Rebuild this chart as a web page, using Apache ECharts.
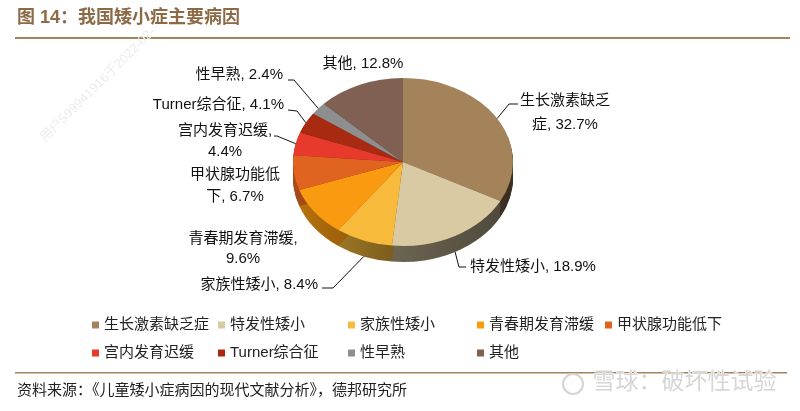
<!DOCTYPE html>
<html>
<head>
<meta charset="utf-8">
<script src="https://cdn.jsdelivr.net/npm/echarts@6/dist/echarts.min.js"></script>
<style>
html,body{margin:0;padding:0;background:#fff;}
#main{width:800px;height:411px;}
</style>
</head>
<body>
<div id="main"></div>
<script>
// 数据
var names = ['生长激素缺乏症','特发性矮小','家族性矮小','青春期发育滞缓','甲状腺功能低下','宫内发育迟缓','Turner综合征','性早熟','其他'];
var values = [32.7,18.9,8.4,9.6,6.7,4.4,4.1,2.4,12.8];
var colors = ['#A4825A','#D9CAA3','#F7BA3A','#F99A10','#E0641F','#E83A2C','#A82A10','#8E8E8E','#7F6052'];

// 饼图位置（椭圆+厚度）
var CX = 403, CY = 162, RX = 110, RY = 84, DEPTH = 16;
var FONT = '"Liberation Sans","Noto Sans CJK SC",sans-serif';

// 标签摆放：相对圆心的位置、对齐、换行位置、引线拐点/终点
var labelLayout = [
  {x:162, y:-49, align:'center', brk:6, lh:24, line:[[106,-58],[115,-58]]},
  {x:67,  y:105, align:'left',   line:[[56,105],[63,105]], front:true},
  {x:-85, y:123, align:'right',  line:[[-70,126],[-81,126]], front:true},
  {x:-160,y:87,  align:'center', brk:8, lh:20},
  {x:-168,y:24,  align:'center', brk:6, lh:22},
  {x:-178,y:-21, align:'center', brk:7, lh:21, line:[[-126,-26],[-129,-26]]},
  {x:-119,y:-57, align:'right',  line:[[-106,-51],[-115,-52]]},
  {x:-120,y:-87, align:'right',  line:[[-109,-82],[-115,-82]]},
  {x:-40, y:-98, align:'center'}
];
var legendLeft = [87,213,343,472,600];
var legendCols = [[0,5],[1,6],[2,7],[3,8],[4]];

var total = 0, starts = [];
for (var i=0;i<values.length;i++){ starts.push(total); total += values[i]; }
var pieData = values.map(function(v,i){ return [v, starts[i]]; });

function shade(hex,k){
  var n = parseInt(hex.slice(1),16);
  var r=(n>>16)&255, g=(n>>8)&255, b=n&255;
  return 'rgb('+Math.round(r*k)+','+Math.round(g*k)+','+Math.round(b*k)+')';
}
function sector(a0,a1,fill,dy){
  return {
    type:'sector',
    shape:{cx:CX, cy:CY, r:RX, r0:0, startAngle:a0, endAngle:a1, clockwise:true},
    originX:CX, originY:CY, scaleY:RY/RX, y:dy,
    style:{fill:fill}
  };
}
function angles(api){
  var a0 = -Math.PI/2 + 2*Math.PI*api.value(1)/total;
  var a1 = a0 + 2*Math.PI*api.value(0)/total;
  return [a0,a1];
}

//侧面
function renderWall(params, api){
  var i = params.dataIndex;
  var a = angles(api);
  var fill = {type:'linear', x:CX-RX, y:0, x2:CX+RX, y2:0, global:true,
    colorStops:[{offset:0,color:shade(colors[i],0.75)},{offset:0.45,color:shade(colors[i],0.5)},{offset:1,color:shade(colors[i],0.35)}]};
  var kids = [];
  for (var d=DEPTH; d>=1; d--) kids.push(sector(a[0],a[1],fill,d));
  return {type:'group', children:kids};
}

//顶面+标签
function renderTop(params, api){
  var i = params.dataIndex;
  var a = angles(api);
  var kids = [sector(a[0],a[1],colors[i],0)];
  var lay = labelLayout[i];
  var txt = names[i] + ', ' + api.value(0) + '%';
  if (lay.brk) txt = txt.slice(0,lay.brk) + '\n' + txt.slice(lay.brk).trim();
  kids.push({
    type:'text', x:CX+lay.x, y:CY+lay.y, z2:10,
    style:{text:txt, fill:'#111', fontSize:15, fontFamily:FONT, align:lay.align, verticalAlign:'middle', lineHeight:lay.lh||20}
  });
  if (lay.line){
    var mid = (a[0]+a[1])/2;
    var sx = CX + RX*Math.cos(mid), sy = CY + RY*Math.sin(mid) + (lay.front?DEPTH:0);
    kids.push({
      type:'polyline', z2:10,
      shape:{points:[[sx,sy],[CX+lay.line[0][0],CY+lay.line[0][1]],[CX+lay.line[1][0],CY+lay.line[1][1]]]},
      style:{stroke:'#111', lineWidth:1, fill:null}
    });
  }
  return {type:'group', children:kids};
}

var chart = echarts.init(document.getElementById('main'));
var legends = legendCols.map(function(col,k){
  return {
    orient:'vertical', left:legendLeft[k], top:310,
    icon:'rect', itemWidth:7, itemHeight:7, itemGap:8,
    selectedMode:false,
    textStyle:{fontSize:15, lineHeight:20, color:'#222', fontFamily:FONT},
    data:col.map(function(j){ return names[j]; })
  };
});

var option = {
  backgroundColor:'#fff',
  animation:false,
  legend:legends,
  graphic:[
    {type:'text', left:17, top:9, style:{text:'图 14：我国矮小症主要病因', fill:'#8C6A46', fontSize:18, fontWeight:'bold', fontFamily:FONT}},
    {type:'rect', shape:{x:15, y:37, width:775, height:2}, style:{fill:'#A3825C'}},
    {type:'rect', shape:{x:15, y:372, width:772, height:1.5}, style:{fill:'#A3825C'}},
    {type:'text', left:17, top:383, style:{text:'资料来源：《儿童矮小症病因的现代文献分析》，德邦研究所', fill:'#222', fontSize:15, fontFamily:FONT}},
    {type:'circle', shape:{cx:573, cy:384, r:10}, style:{fill:null, stroke:'#d4d4d4', lineWidth:2}},
    {type:'text', left:592, top:371, style:{text:'雪球：破坏性试验', fill:'#d6d6d6', fontSize:23, fontFamily:FONT, stroke:'#fff', lineWidth:1}},
    {type:'text', x:38, y:135, rotation:0.78, style:{text:'用户599941916于2022-02-', fill:'#ececec', fontSize:13, fontFamily:FONT}}
  ],
  series:[
    {
      name:'legendPie', type:'pie', radius:[0,0], center:[CX,CY], silent:true,
      label:{show:false}, labelLine:{show:false},
      data:names.map(function(n,i){ return {name:n, value:values[i], itemStyle:{color:colors[i]}}; })
    },
    {name:'wall', type:'custom', coordinateSystem:'none', renderItem:renderWall, data:pieData, silent:true, z:1},
    {name:'top', type:'custom', coordinateSystem:'none', renderItem:renderTop, data:pieData, silent:true, z:2}
  ]
};
chart.setOption(option);
</script>
</body>
</html>
